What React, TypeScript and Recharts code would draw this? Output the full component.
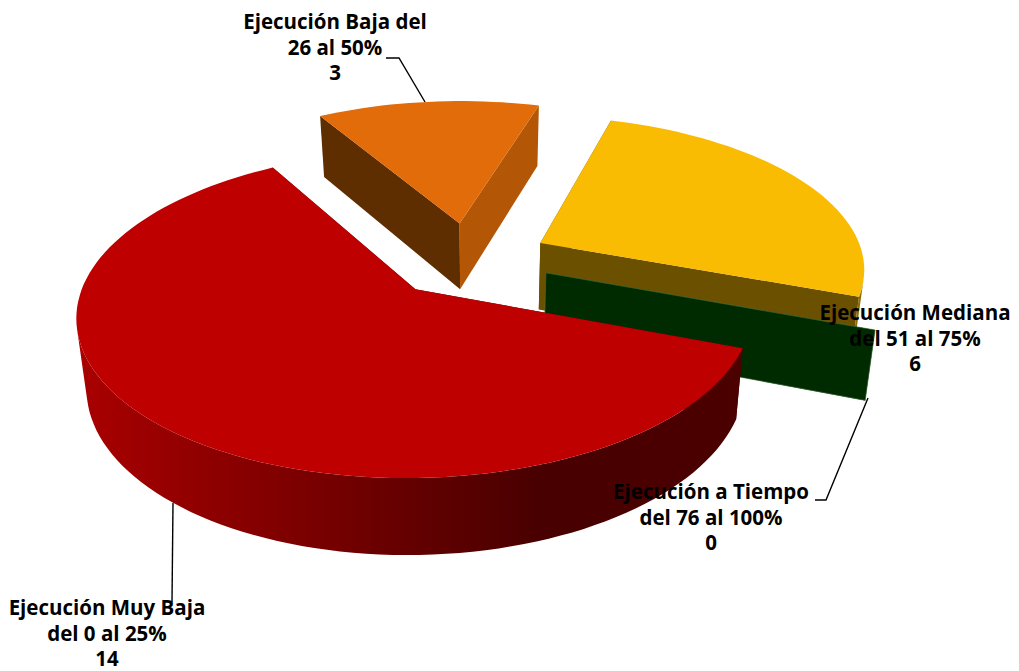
import React from 'react';
import { PieChart, Pie } from 'recharts';

// Draw order runs back to front: Baja, Mediana, a Tiempo, Muy Baja.
const categories = ['Ejecución Baja del 26 al 50%', 'Ejecución Mediana del 51 al 75%', 'Ejecución a Tiempo del 76 al 100%', 'Ejecución Muy Baja del 0 al 25%'];
const values = [3, 6, 0, 14];
const labelLines = [
  ['Ejecución Baja del', '26 al 50%', '3'],
  ['Ejecución Mediana', 'del 51 al 75%', '6'],
  ['Ejecución a Tiempo', 'del 76 al 100%', '0'],
  ['Ejecución Muy Baja', 'del 0 al 25%', '14'],
];
const topColors = ['#E26B0A', '#FABB03', '#002B00', '#BE0000'];
const startWallColors = ['#5E2D00', '#6B5000', '#002B00', '#4A0000'];
const endWallColors = ['#B35606', '#6B5000', '#002B00', '#4A0000'];
const outerStops: [number, string][][] = [
  [[0, '#5E2D00'], [1, '#B35606']],
  [[0, '#8A6C00'], [1, '#8A6C00']],
  [[0, '#002B00'], [1, '#002B00']],
  [[0, '#AA0000'], [0.15, '#950000'], [0.35, '#7A0000'], [0.5, '#640000'], [0.7, '#480000'], [1, '#4C0000']],
];
const labelCentres = [[335, 21], [915, 312], [711, 491], [107, 607]];
const leaderLines = [
  [[386, 58], [399, 58], [425, 102]],
  [],
  [[815, 500], [826, 500], [868, 398]],
  [[173, 503], [172, 602]],
];

const chartData = categories.map((name, i) => ({ name, value: values[i] }));

const TILT = 0.465;
const PERSPECTIVE = 0.15;
const EXPLODE = 0.25;
const ARC_STEP = 2;

const rad = (d: number) => (d * Math.PI) / 180;

function SliceShape(props: any) {
  const { cx, cy, outerRadius: R, startAngle, endAngle, index } = props;
  const a0 = -startAngle;
  const a1 = -endAngle;
  const mid = rad((a0 + a1) / 2);
  const ox = EXPLODE * Math.cos(mid);
  const oy = EXPLODE * Math.sin(mid);
  const project = (r: number, a: number) => {
    const X = ox + r * Math.cos(rad(a));
    const Y = oy + r * Math.sin(rad(a));
    const s = 1 / (1 - PERSPECTIVE * Y);
    return [cx + R * X * s, cy + TILT * R * Y * s];
  };
  const lower = ([x, y]: number[]) => [x * 0.975 + 12, y * 1.0443 + 55.8];
  const path = (pts: number[][]) =>
    'M' + pts.map((p) => `${p[0].toFixed(1)},${p[1].toFixed(1)}`).join('L') + 'Z';

  const arc: number[][] = [];
  const n = Math.max(1, Math.ceil((a1 - a0) / ARC_STEP));
  for (let i = 0; i <= n; i++) arc.push(project(1, a0 + ((a1 - a0) * i) / n));
  const apex = project(0, 0);
  const first = arc[0];
  const last = arc[arc.length - 1];
  const xs = arc.map((p) => p[0]);
  const gid = `wall-${index}`;
  const degenerate = a1 - a0 < 0.01;

  // Keep only the outer-wall quads that face the viewer, so the silhouette is closed.
  const quads: string[] = [];
  if (!degenerate) {
    for (let i = 0; i < arc.length - 1; i++) {
      const q = [arc[i], arc[i + 1], lower(arc[i + 1]), lower(arc[i])];
      let area = 0;
      for (let j = 0; j < 4; j++) {
        const p = q[j];
        const r = q[(j + 1) % 4];
        area += p[0] * r[1] - r[0] * p[1];
      }
      if (area < 0) quads.push(path(q));
    }
  }

  return (
    <g>
      <defs>
        <linearGradient
          id={gid}
          gradientUnits="userSpaceOnUse"
          x1={Math.min(...xs)}
          x2={Math.max(...xs) + 1}
          y1={0}
          y2={0}
        >
          {outerStops[index].map(([o, c]) => (
            <stop key={o} offset={o} stopColor={c} />
          ))}
        </linearGradient>
      </defs>
      <path d={path([apex, first, lower(first), lower(apex)])} fill={startWallColors[index]} />
      <path
        d={path([apex, last, lower(last), lower(apex)])}
        fill={endWallColors[index]}
        stroke={degenerate ? '#4E7A4A' : 'none'}
        strokeWidth={degenerate ? 0.6 : 0}
      />
      {quads.length > 0 && <path d={quads.join(' ')} fill={`url(#${gid})`} />}
      {!degenerate && <path d={path([apex, ...arc])} fill={topColors[index]} />}
    </g>
  );
}

function SliceLabel(props: any) {
  const { index } = props;
  const [x, y] = labelCentres[index];
  const line = leaderLines[index];
  return (
    <g>
      {line.length > 0 && (
        <polyline
          points={line.map((p) => p.join(',')).join(' ')}
          fill="none"
          stroke="#000"
          strokeWidth={1.4}
        />
      )}
      {labelLines[index].map((t, i) => (
        <text
          key={i}
          x={x}
          y={y + i * 25.5}
          textAnchor="middle"
          dominantBaseline="central"
          fontFamily="'Open Sans', sans-serif"
          fontWeight={700}
          fontSize={20.5}
          fill="#000"
        >
          {t}
        </text>
      ))}
    </g>
  );
}

export default function App() {
  return (
    <div style={{ position: 'absolute', left: 0, top: 0, width: 1019, height: 671, background: '#fff' }}>
      <PieChart width={1019} height={671} margin={{ top: 0, right: 0, bottom: 0, left: 0 }}>
        <Pie
          data={chartData}
          dataKey="value"
          nameKey="name"
          cx={469}
          cy={259.5}
          innerRadius={0}
          outerRadius={324}
          startAngle={-239.6}
          endAngle={-599.6}
          stroke="none"
          isAnimationActive={false}
          shape={SliceShape}
          inactiveShape={SliceShape}
          activeShape={SliceShape}
          label={SliceLabel}
          labelLine={false}
        />
      </PieChart>
    </div>
  );
}
